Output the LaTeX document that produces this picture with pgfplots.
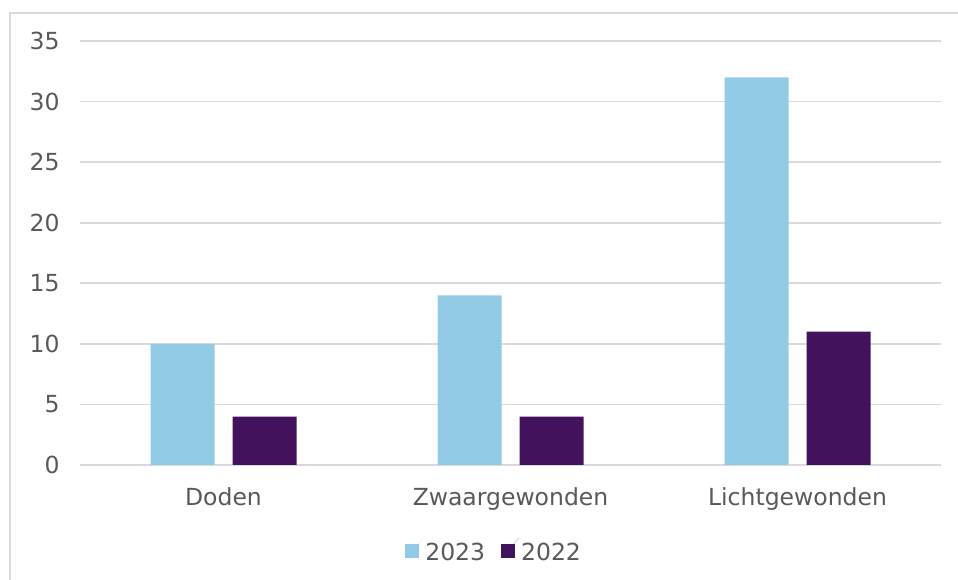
\documentclass[border=0pt]{standalone}
\usepackage{pgfplots}
\pgfplotsset{compat=1.18}
\usepackage{fontspec}
\setmainfont{DejaVu Sans}
\definecolor{lightblue}{HTML}{91CBE6}
\definecolor{darkpurple}{HTML}{43125C}
\definecolor{gridgray}{HTML}{D9D9D9}
\definecolor{textgray}{HTML}{595959}
\begin{document}
\begin{tikzpicture}[x=1pt,y=1pt]
  \path[use as bounding box] (0,0) rectangle (958,580);
  % chart frame, cut off at right and bottom
  \draw[gridgray, line width=2pt] (10,-5) -- (10,567) -- (965,567);
  \begin{axis}[
      at={(80pt,115pt)},
      anchor=south west,
      scale only axis,
      width=861pt,
      height=424pt,
      ybar=18pt,
      bar width=64pt,
      xmin=-0.5, xmax=2.5,
      ymin=0, ymax=35,
      ytick={0,5,...,35},
      xtick=data,
      xticklabels={Doden,Zwaargewonden,Lichtgewonden},
      ymajorgrids,
      grid style={gridgray, line width=1.6pt},
      axis line style={draw=none},
      major tick length=0pt,
      tick label style={font=\fontsize{23.5}{28}\selectfont, text=textgray},
      /pgf/number format/assume math mode=true,
      yticklabel style={xshift=-17pt},
      xticklabel style={yshift=-19pt},
      legend style={
        at={(0.481,-0.203)}, anchor=center,
        draw=none, fill=none,
        legend columns=2,
        font=\fontsize{23.5}{28}\selectfont, text=textgray,
        /tikz/every even column/.append style={column sep=14pt}
      },
      legend image code/.code={
        \fill[#1] (0pt,-5pt) rectangle (14pt,9pt);
        \path (0pt,-5pt) -- (18pt,15pt);},
    ]
    \addplot[fill=lightblue, draw=none] coordinates {(0,10) (1,14) (2,32)};
    \addlegendentry{2023}
    \addplot[fill=darkpurple, draw=none] coordinates {(0,4) (1,4) (2,11)};
    \addlegendentry{2022}
  \end{axis}
\end{tikzpicture}
\end{document}
